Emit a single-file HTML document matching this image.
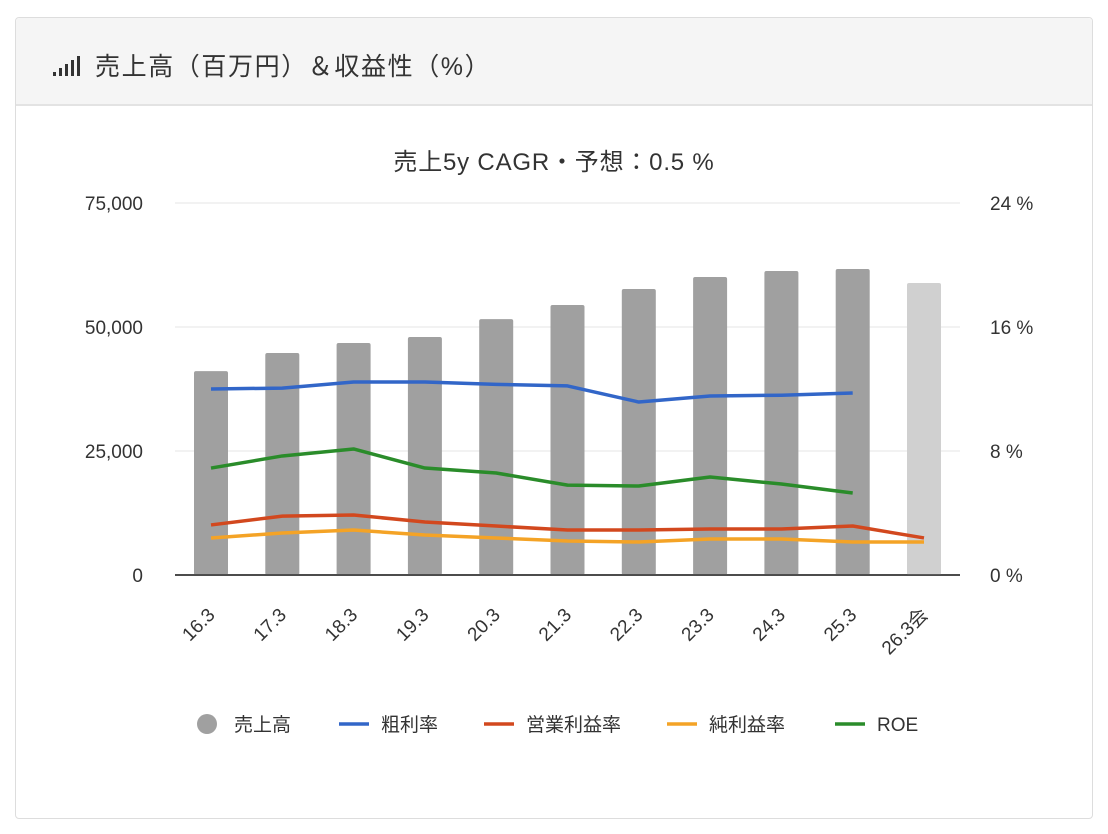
<!DOCTYPE html>
<html><head><meta charset="utf-8">
<style>
body{margin:0;width:1108px;height:834px;background:#fff;font-family:"Liberation Sans","Noto Sans CJK JP",sans-serif;overflow:hidden}
#card{position:absolute;left:15px;top:17px;width:1076px;height:800px;border:1px solid #ddd;border-radius:4px;background:#fff}
#hdr{position:absolute;left:0;top:0;width:1076px;height:86px;background:#f5f5f5;border-bottom:2px solid #e3e3e3;border-radius:4px 4px 0 0}
#ttl{position:absolute;left:79px;top:29px;font-size:25px;letter-spacing:1.6px;color:#333}
svg{position:absolute;left:0;top:0}
</style></head><body>
<div id="card">
<div id="hdr">
<svg width="80" height="86">
<rect x="37" y="54" width="3" height="4" fill="#333"/><rect x="43" y="50" width="3" height="8" fill="#333"/><rect x="49" y="46" width="3" height="12" fill="#333"/><rect x="55" y="42" width="3" height="16" fill="#333"/><rect x="61" y="38" width="3" height="20" fill="#333"/>
</svg>
<div id="ttl">売上高（百万円）＆収益性（%）</div>
</div>
</div>
<svg id="ch" width="1108" height="834"></svg>
<script>
const categories=["16.3","17.3","18.3","19.3","20.3","21.3","22.3","23.3","24.3","25.3","26.3会"];
const sales=[41100,44750,46770,47980,51600,54430,57660,60080,61290,61690,58870];
const gross=[12.0,12.06,12.45,12.45,12.3,12.2,11.16,11.55,11.6,11.74,null];
const opm=[3.23,3.8,3.87,3.42,3.16,2.9,2.9,2.97,2.97,3.16,2.39];
const npm=[2.39,2.71,2.9,2.58,2.39,2.19,2.13,2.32,2.32,2.13,2.13];
const roe=[6.9,7.68,8.13,6.9,6.58,5.8,5.74,6.32,5.87,5.29,null];
const leftTicks=["0","25,000","50,000","75,000"];
const rightTicks=["0 %","8 %","16 %","24 %"];
const svg=document.getElementById('ch');const NS="http://www.w3.org/2000/svg";
function mk(t,a,txt){const e=document.createElementNS(NS,t);for(const k in a)e.setAttribute(k,a[k]);if(txt!=null)e.textContent=txt;svg.appendChild(e);return e;}
const x0=175,x1=960,yB=575,yT=203;
const xs=i=>211+i*71.3;
const yL=v=>yB-(v/75000)*(yB-yT);
const yR=v=>yB-(v/24)*(yB-yT);
let t=mk('text',{x:554,y:170,'text-anchor':'middle','font-size':24,'letter-spacing':'0.8',fill:'#333'},'売上5y CAGR・予想：0.5 %');

for(let i=0;i<4;i++){const y=yB-i*(yB-yT)/3;
 let g=mk('line',{x1:x0,x2:x1,y1:y,y2:y,stroke:i?'#e6e6e6':'#333','stroke-width':i?1:1.5});
 
 let a=mk('text',{x:143,y:y+7,'text-anchor':'end','font-size':19,fill:'#333'},leftTicks[i]);
 
 let b=mk('text',{x:990,y:y+7,'font-size':19,fill:'#333'},rightTicks[i]);
 }
sales.forEach((v,i)=>{let r=mk('rect',{x:xs(i)-17,y:yL(v),width:34,height:yB-yL(v),fill:i==10?'#d0d0d0':'#a0a0a0',rx:2});
 
 let l=mk('text',{x:0,y:0,'text-anchor':'end','font-size':19,fill:'#333',transform:`translate(${xs(i)+5},${616}) rotate(-45)`},categories[i]);
 });
mk('line',{x1:x0,x2:x1,y1:yB,y2:yB,stroke:'#333','stroke-width':1.5});
function line(arr,c,n){let d='';arr.forEach((v,i)=>{if(v==null)return;d+=(d?'L':'M')+xs(i)+','+yR(v);});
 let p=mk('path',{d,fill:'none',stroke:c,'stroke-width':3.5,'stroke-linejoin':'round'});
 }
line(npm,'#f4a326','net-margin-line');line(opm,'#d2481e','operating-margin-line');line(roe,'#2a8c2a','roe-line');line(gross,'#3266c8','gross-margin-line');
const leg=[['売上高','#a0a0a0',207,1],['粗利率','#3266c8',339,0],['営業利益率','#d2481e',484,0],['純利益率','#f4a326',667,0],['ROE','#2a8c2a',835,0]];
leg.forEach(l=>{if(l[3]){let c=mk('circle',{cx:l[2],cy:724,r:10,fill:l[1]});}
 else{let m=mk('line',{x1:l[2],x2:l[2]+30,y1:724,y2:724,stroke:l[1],'stroke-width':3.5});}
 let tx=mk('text',{x:l[2]+(l[3]?27:42),y:731,'font-size':19,fill:'#333'},l[0]);
 });
</script>
</body></html>
